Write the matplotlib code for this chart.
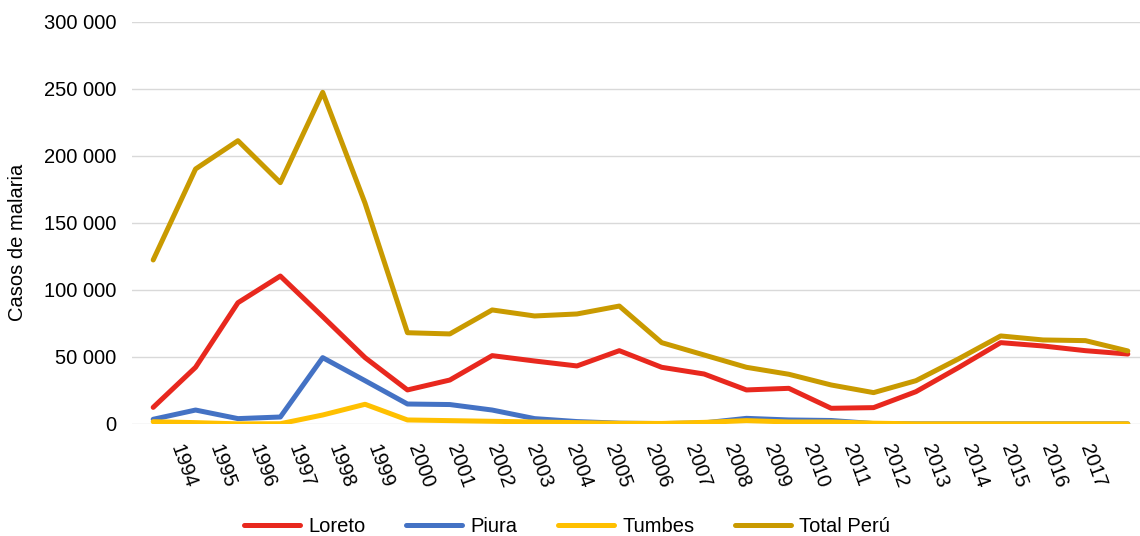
import numpy as np
import matplotlib
matplotlib.use('Agg')
import matplotlib.pyplot as plt
from matplotlib.ticker import FuncFormatter

plt.rcParams['font.family'] = ['Liberation Sans', 'DejaVu Sans']

# Casos de malaria por año
years = [str(y) for y in range(1994, 2018)]
loreto = [12400, 42300, 90500, 110400, 80100, 49500, 25400, 32800, 51000, 47000,
          43300, 54700, 42300, 37300, 25400, 26600, 11700, 12200, 24100, 42000,
          60700, 58200, 54700, 52200]
piura = [3500, 10400, 4000, 5200, 49500, 32300, 14900, 14500, 10400, 4000,
         1800, 600, 300, 800, 4200, 3000, 2600, 300, 100, 100,
         100, 100, 100, 100]
tumbes = [1700, 1000, 100, 200, 6700, 14700, 3000, 2500, 2000, 1500,
          1000, 500, 400, 1200, 2500, 1500, 1500, 600, 100, 100,
          100, 100, 100, 100]
total = [122400, 190300, 211400, 180100, 247500, 164700, 68100, 67200, 85100, 80600,
         82100, 88000, 60700, 51500, 42300, 37100, 29100, 23400, 32300, 48500,
         65700, 62700, 62200, 54500]

series = [('Loreto', loreto, '#E8281E'),
          ('Piura', piura, '#4472C4'),
          ('Tumbes', tumbes, '#FFC000'),
          ('Total Perú', total, '#C99A00')]

fig = plt.figure(figsize=(11.4, 5.36), dpi=100)
ax = fig.add_axes([0.1158, 0.209, 0.8921, 0.75])

x = np.arange(len(years))
for name, vals, col in series:
    ax.plot(x, vals, color=col, lw=3.6, label=name,
            solid_capstyle='round', solid_joinstyle='round')

ax.set_xlim(-0.5, len(years) - 0.5)
ax.set_ylim(0, 300000)
ax.set_yticks(np.arange(0, 300001, 50000))
ax.yaxis.set_major_formatter(FuncFormatter(lambda v, p: f'{int(v):,}'.replace(',', ' ')))
ax.grid(axis='y', color='#D9D9D9', lw=1)
ax.set_axisbelow(True)
for s in ax.spines.values():
    s.set_visible(False)

# etiquetas del eje x giradas
ax.set_xticks(np.linspace(0.52, 22.0, len(years)))
ax.set_xticklabels(years, rotation=-70, ha='left', va='center', rotation_mode='anchor')
ax.tick_params(axis='x', length=0, pad=15, labelsize=14.5, labelcolor='#000000')
ax.tick_params(axis='y', length=0, pad=11.5, labelsize=14.5, labelcolor='#000000')

fig.text(18 / 1140, 1 - 242 / 536, 'Casos de malaria', rotation=90,
         ha='center', va='center', fontsize=14.5)

fig.legend(loc='center', bbox_to_anchor=(567 / 1140, 1 - 527 / 536), ncol=4,
           frameon=False, fontsize=14.5, handlelength=2.8, handletextpad=0.4,
           columnspacing=2.0)

fig.savefig('out.png', dpi=100)
